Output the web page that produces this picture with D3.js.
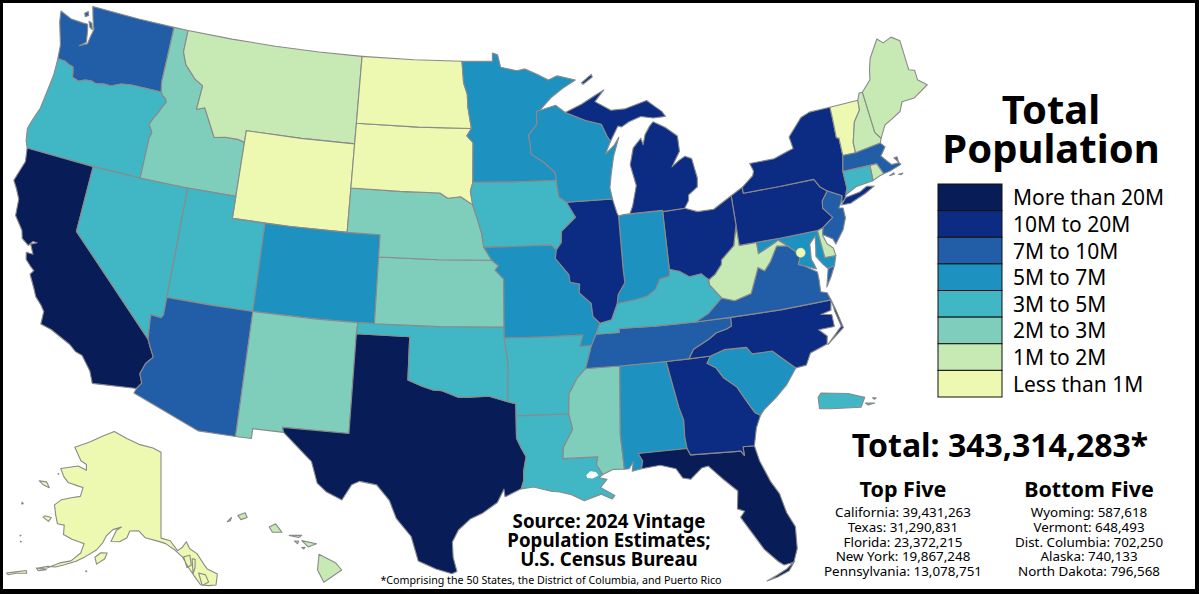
<!DOCTYPE html>
<html>
<head>
<meta charset="utf-8">
<title>Total Population</title>
<script src="https://d3js.org/d3.v7.min.js"></script>
<style>
  html, body { margin: 0; padding: 0; background: white; overflow: hidden; }
  text { font-family: "Noto Sans", sans-serif; fill: black; }
</style>
</head>
<body>
<svg id="map" width="1199" height="594" style="display:block"></svg>
<script>
// population per state (2024 vintage)
const stateIds = ["CA","TX","FL","NY","PA","IL","OH","GA","NC","MI","NJ","VA","WA","AZ","TN","MA","IN","MD","MO","WI","CO","MN","SC","AL","LA","KY","OR","OK","CT","UT","IA","NV","AR","KS","MS","NM","NE","ID","WV","HI","NH","ME","MT","RI","DE","SD","ND","AK","DC","VT","WY","PR"];
const statePopulation = [39431263,31290831,23372215,19867248,13078751,12710158,11883304,11180878,11046024,10140459,9500851,8811195,7958180,7582384,7227750,7136171,6924275,6263220,6245466,5960975,5957493,5793151,5478831,5157699,4597740,4588372,4272371,4095393,3675069,3503613,3241488,3267467,3088354,2970606,2943045,2130256,2005465,2001619,1769979,1446146,1409032,1405012,1137233,1112308,1051917,924669,796568,740133,702250,648493,587618,3203295];

const legendLabels = ["More than 20M","10M to 20M","7M to 10M","5M to 7M","3M to 5M","2M to 3M","1M to 2M","Less than 1M"];
const legendColors = ["#081d58","#0c2c84","#225ea8","#1d91c0","#41b6c4","#7fcdbb","#c7e9b4","#edf8b1"];
const thresholds = [1e6,2e6,3e6,5e6,7e6,10e6,20e6];

const topNames = ["California","Texas","Florida","New York","Pennsylvania"];
const topValues = [39431263,31290831,23372215,19867248,13078751];
const bottomNames = ["Wyoming","Vermont","Dist. Columbia","Alaska","North Dakota"];
const bottomValues = [587618,648493,702250,740133,796568];
const totalPopulation = 343314283;
const titleLines = ["Total","Population"];
const sourceLines = ["Source: 2024 Vintage","Population Estimates;","U.S. Census Bureau"];

// flat lon,lat list -> pairs
function p() {
  var a = [];
  for (var i = 0; i < arguments.length; i += 2) a.push([arguments[i], arguments[i+1]]);
  return a;
}

// state outlines, lon/lat
const outlines = {
WA: [p(-124.73,48.38,-124.6,47.9,-124.3,47.3,-124.1,46.9,-124.0,46.27,-123.5,46.25,-123.2,46.15,-122.9,46.1,-122.8,45.85,-122.75,45.65,-122.3,45.55,-121.9,45.68,-121.5,45.72,-121.2,45.65,-120.65,45.73,-120.2,45.72,-119.6,45.92,-118.98,46.0,-116.92,46.0,-117.04,46.42,-117.03,47.7,-117.03,49,-119.5,49,-122.75,49,-122.5,48.45,-122.25,48.0,-122.35,47.6,-122.4,47.3,-122.9,47.1,-122.5,47.35,-122.65,47.9,-122.75,48.15,-123.1,48.15,-123.9,48.17),
     p(-123.15,48.6,-122.95,48.72,-122.85,48.55,-123.05,48.45), p(-122.72,48.3,-122.5,48.25,-122.35,47.98,-122.55,48.05)],
OR: [p(-124.0,46.27,-123.95,45.5,-124.05,44.7,-124.15,43.9,-124.4,43.3,-124.55,42.84,-124.4,42.3,-124.21,42,-120,42,-117.03,42,-117.03,43.83,-116.93,44.1,-117.05,44.25,-117.22,44.45,-117.05,44.75,-116.85,45.0,-116.67,45.3,-116.46,45.6,-116.55,45.75,-116.78,45.85,-116.92,46.0,-118.98,46.0,-119.6,45.92,-120.2,45.72,-120.65,45.73,-121.2,45.65,-121.5,45.72,-121.9,45.68,-122.3,45.55,-122.75,45.65,-122.8,45.85,-122.9,46.1,-123.2,46.15,-123.5,46.25)],
CA: [p(-124.21,42,-124.07,41.4,-124.41,40.44,-124.1,40.1,-123.8,39.7,-123.7,38.95,-123.1,38.4,-122.95,38.05,-122.5,37.82,-122.3,38.05,-122.05,38.05,-122.38,37.9,-122.1,37.5,-122.5,37.5,-122.4,37.2,-122.05,36.95,-121.8,36.8,-121.95,36.6,-121.5,36.0,-121.3,35.7,-120.9,35.4,-120.65,35.15,-120.63,34.57,-120.0,34.45,-119.2,34.15,-118.8,34.0,-118.4,33.75,-118.0,33.65,-117.4,33.05,-117.12,32.53,-114.72,32.72,-114.5,33.0,-114.7,33.4,-114.5,33.9,-114.15,34.25,-114.45,34.7,-114.63,35.0,-120,39,-120,42)],
NV: [p(-120,42,-117.03,42,-114.04,42,-114.04,39,-114.04,36.2,-114.15,36.05,-114.75,36.1,-114.63,35.0,-120,39)],
ID: [p(-117.03,49,-116.05,49,-116.05,48.0,-115.72,47.45,-114.95,46.9,-114.35,46.65,-114.45,45.55,-113.95,45.7,-113.45,45.05,-113.0,44.45,-112.3,44.55,-111.5,44.55,-111.05,44.47,-111.05,42,-114.04,42,-117.03,42,-117.03,43.83,-116.93,44.1,-117.05,44.25,-117.22,44.45,-117.05,44.75,-116.85,45.0,-116.67,45.3,-116.46,45.6,-116.55,45.75,-116.78,45.85,-116.92,46.0,-117.04,46.42,-117.03,47.7)],
MT: [p(-116.05,49,-113,49,-110,49,-107,49,-104.05,49,-104.05,45,-107.5,45,-111.05,45,-111.05,44.47,-111.5,44.55,-112.3,44.55,-113.0,44.45,-113.45,45.05,-113.95,45.7,-114.45,45.55,-114.35,46.65,-114.95,46.9,-115.72,47.45,-116.05,48.0)],
WY: [p(-111.05,45,-107.5,45,-104.05,45,-104.05,43,-104.05,41,-107.5,41,-111.05,41,-111.05,42,-111.05,44.47)],
UT: [p(-114.04,42,-111.05,42,-111.05,41,-109.05,41,-109.05,37,-111.5,37,-114.04,37,-114.04,39)],
AZ: [p(-114.04,37,-111.5,37,-109.05,37,-109.05,31.33,-111.07,31.33,-114.81,32.5,-114.72,32.72,-114.5,33.0,-114.7,33.4,-114.5,33.9,-114.15,34.25,-114.45,34.7,-114.63,35.0,-114.75,36.1,-114.15,36.05,-114.04,36.2)],
CO: [p(-109.05,41,-107.5,41,-104.05,41,-102.05,41,-102.05,40,-102.05,37,-105.5,37,-109.05,37)],
NM: [p(-109.05,37,-105.5,37,-103,37,-103.04,36.5,-103.04,32,-106.62,32,-106.53,31.78,-108.2,31.78,-108.2,31.33,-109.05,31.33)],
TX: [p(-103.04,36.5,-100,36.5,-100,34.56,-99.2,34.3,-98.6,34.15,-98.1,34.13,-97.2,33.85,-96.6,33.85,-95.5,33.9,-94.48,33.64,-94.04,33.55,-94.04,33.0,-94.04,31.99,-93.8,31.55,-93.55,31.15,-93.7,30.5,-93.72,30.05,-93.85,29.7,-94.7,29.35,-94.75,29.7,-95.1,29.1,-95.9,28.6,-96.5,28.35,-97.1,27.85,-97.4,27.3,-97.35,26.6,-97.15,25.96,-97.4,25.85,-98.2,26.05,-99.1,26.4,-99.5,27.5,-100.3,28.3,-100.7,29.1,-101.4,29.77,-102.3,29.88,-102.7,29.7,-103.15,28.98,-104.0,29.3,-104.5,29.65,-104.9,30.6,-106.0,31.4,-106.53,31.78,-106.62,32,-103.04,32)],
OK: [p(-103,37,-99,37,-94.62,37,-94.62,36.5,-94.43,35.4,-94.48,33.64,-95.5,33.9,-96.6,33.85,-97.2,33.85,-98.1,34.13,-98.6,34.15,-99.2,34.3,-100,34.56,-100,36.5,-103.04,36.5)],
KS: [p(-102.05,40,-98.5,40,-95.3,40,-94.9,39.75,-95.1,39.55,-94.6,39.15,-94.62,37,-98.3,37,-102.05,37)],
NE: [p(-104.05,43,-101,43,-98.5,43,-98.0,42.77,-97.2,42.85,-96.45,42.49,-96.1,41.7,-95.9,41.2,-95.77,40.58,-95.3,40,-98.5,40,-102.05,40,-102.05,41,-104.05,41)],
SD: [p(-104.05,45.94,-100,45.94,-96.56,45.94,-96.85,45.6,-96.45,45.3,-96.45,43.5,-96.6,43.1,-96.45,42.49,-97.2,42.85,-98.0,42.77,-98.5,43,-101,43,-104.05,43)],
ND: [p(-104.05,49,-100.5,49,-97.23,49,-97.1,48.0,-96.85,47.5,-96.8,46.9,-96.56,45.94,-100,45.94,-104.05,45.94)],
MN: [p(-97.23,49,-95.15,49,-95.15,49.38,-94.8,49.3,-94.6,48.72,-93.5,48.55,-92.95,48.62,-92.0,48.3,-91.4,48.07,-90.8,48.24,-89.6,48.0,-90.5,47.65,-91.3,47.25,-92.05,46.72,-92.29,46.66,-92.29,46.08,-92.85,45.6,-92.75,45.0,-92.75,44.75,-91.95,44.35,-91.25,43.85,-91.22,43.5,-94,43.5,-96.45,43.5,-96.45,45.3,-96.85,45.6,-96.56,45.94,-96.8,46.9,-96.85,47.5,-97.1,48.0)],
IA: [p(-96.45,43.5,-94,43.5,-91.22,43.5,-91.1,42.75,-90.65,42.5,-90.15,41.8,-91.05,41.2,-91.1,40.7,-91.42,40.38,-91.73,40.61,-94,40.6,-95.77,40.58,-95.9,41.2,-96.1,41.7,-96.45,42.49,-96.6,43.1)],
MO: [p(-95.77,40.58,-94,40.6,-91.73,40.61,-91.42,40.38,-91.5,40.0,-90.75,39.25,-90.7,38.9,-90.15,38.8,-90.2,38.4,-89.55,37.9,-89.5,37.3,-89.13,36.98,-89.4,36.5,-89.7,36.0,-90.37,36.0,-90.15,36.5,-92.5,36.5,-94.62,36.5,-94.62,37,-94.6,39.15,-95.1,39.55,-94.9,39.75,-95.3,40)],
AR: [p(-94.62,36.5,-92.5,36.5,-90.15,36.5,-90.37,36,-89.7,36,-90.1,35.0,-90.6,34.6,-91.1,33.9,-91.17,33.0,-92.5,33,-94.04,33,-94.04,33.55,-94.48,33.64,-94.43,35.4)],
LA: [p(-94.04,33,-92.5,33,-91.17,33,-91.0,32.3,-91.55,31.5,-91.6,31.0,-89.75,31.0,-89.85,30.65,-89.55,30.18,-89.75,30.05,-89.35,29.95,-89.72,29.6,-89.0,29.2,-89.15,29.05,-89.7,29.3,-90.6,29.05,-91.3,29.37,-91.85,29.5,-92.3,29.55,-93.2,29.77,-93.85,29.7,-93.72,30.05,-93.7,30.5,-93.55,31.15,-93.8,31.55,-94.04,31.99)],
MS: [p(-90.1,35,-88.2,35,-88.47,31.9,-88.4,30.35,-89.0,30.38,-89.55,30.18,-89.85,30.65,-89.75,31.0,-91.6,31.0,-91.55,31.5,-91.0,32.3,-91.17,33.0,-91.1,33.9,-90.6,34.6)],
AL: [p(-88.2,35,-85.6,35,-85.18,32.87,-85.0,32.3,-85.05,31.55,-85.0,31,-87.6,31,-87.4,30.65,-87.5,30.3,-88.0,30.23,-87.9,30.65,-88.15,30.35,-88.4,30.35,-88.47,31.9)],
FL: [p(-87.6,31,-85.0,31,-84.86,30.7,-82.2,30.57,-82.05,30.35,-82.05,30.75,-81.45,30.72,-81.3,30.0,-80.9,29.0,-80.55,28.4,-80.35,27.5,-80.03,26.8,-80.12,25.8,-80.4,25.2,-80.9,25.15,-81.15,25.35,-81.75,26.0,-82.1,26.6,-82.7,27.6,-82.45,27.85,-82.8,28.0,-82.65,28.8,-83.4,29.5,-84.0,30.1,-84.35,30.05,-85.0,29.6,-85.4,29.7,-85.7,30.15,-86.5,30.38,-87.5,30.3,-87.4,30.65),
     p(-81.85,24.55,-81.3,24.65,-80.7,24.85,-80.35,25.25,-80.45,25.2,-80.8,24.95,-81.3,24.75)],
GA: [p(-85.6,35,-84.32,35,-83.1,35,-83.35,34.7,-82.9,34.45,-82.55,33.95,-81.9,33.45,-81.4,32.6,-81.15,32.2,-80.88,32.03,-81.2,31.5,-81.45,30.72,-82.05,30.75,-82.05,30.35,-82.2,30.57,-84.86,30.7,-85.0,31,-85.05,31.55,-85.0,32.3,-85.18,32.87)],
SC: [p(-83.1,35,-82.3,35.2,-81.05,35.15,-80.8,34.82,-79.67,34.8,-78.55,33.86,-79.2,33.2,-79.9,32.7,-80.65,32.25,-80.88,32.03,-81.15,32.2,-81.4,32.6,-81.9,33.45,-82.55,33.95,-82.9,34.45,-83.35,34.7)],
NC: [p(-84.32,35,-83.1,35,-82.3,35.2,-81.05,35.15,-80.8,34.82,-79.67,34.8,-78.55,33.86,-77.95,33.9,-77.6,34.4,-76.6,34.65,-76.5,35.0,-76.9,35.35,-76.0,35.35,-76.0,35.9,-76.6,36.0,-76.0,36.1,-75.87,36.55,-78.8,36.55,-81.68,36.59,-81.7,36.2,-82.0,36.1,-82.6,36.0,-83.1,35.75,-84.0,35.4),
     p(-76.55,34.62,-75.52,35.22,-75.7,36.0,-75.85,36.5,-75.8,36.0,-75.62,35.3)],
TN: [p(-90.1,35,-88.2,35,-85.6,35,-84.32,35,-84.0,35.4,-83.1,35.75,-82.6,36.0,-82.0,36.1,-81.7,36.2,-81.68,36.59,-83.68,36.6,-86,36.63,-88.07,36.68,-88.07,36.5,-89.4,36.5,-89.7,36)],
KY: [p(-89.4,36.5,-88.07,36.5,-88.07,36.68,-86,36.63,-83.68,36.6,-82.9,36.9,-82.0,37.5,-82.6,38.17,-82.6,38.4,-83.0,38.72,-83.7,38.65,-84.25,38.95,-84.82,39.1,-84.85,38.8,-85.45,38.7,-85.75,38.27,-86.3,38.0,-87.0,37.9,-88.05,37.8,-88.45,37.1,-89.13,36.98)],
VA: [p(-83.68,36.6,-81.68,36.59,-78.8,36.55,-75.87,36.55,-76.0,36.9,-76.35,37.0,-76.3,37.55,-76.3,37.9,-77.0,38.3,-77.3,38.4,-77.05,38.8,-77.5,39.15,-77.72,39.32,-78.35,39.4,-78.87,38.77,-79.3,38.4,-79.65,38.6,-80.3,37.5,-81.3,37.3,-81.97,37.54,-82.9,36.9),
     p(-75.95,37.15,-75.6,37.55,-75.25,38.03,-75.65,37.95)],
WV: [p(-82.6,38.4,-82.6,38.17,-82.0,37.5,-81.3,37.3,-80.3,37.5,-79.65,38.6,-79.3,38.4,-78.87,38.77,-78.35,39.4,-77.72,39.32,-78.2,39.65,-78.45,39.55,-79.48,39.21,-79.48,39.72,-80.52,39.72,-80.52,40.64,-80.85,39.75,-81.7,39.2,-81.75,39.0,-82.2,38.6)],
MD: [p(-79.48,39.72,-78,39.72,-75.79,39.72,-75.7,38.46,-75.05,38.45,-75.25,38.03,-75.65,37.95,-75.9,38.2,-76.2,38.6,-76.1,39.0,-76.0,39.5,-76.4,39.2,-76.5,38.5,-76.4,38.3,-76.32,38.04,-77.0,38.3,-77.3,38.4,-77.05,38.8,-77.5,39.15,-77.72,39.32,-78.2,39.65,-78.45,39.55,-79.48,39.21)],
DE: [p(-75.79,39.72,-75.42,39.8,-75.55,39.45,-75.4,39.05,-75.1,38.8,-75.05,38.45,-75.7,38.46)],
PA: [p(-80.52,41.98,-79.76,42.27,-79.76,42.0,-77.5,42,-75.35,42.0,-75.07,41.6,-74.7,41.36,-75.13,40.97,-75.2,40.65,-74.73,40.15,-75.42,39.8,-75.79,39.72,-78,39.72,-80.52,39.72,-80.52,40.64)],
NY: [p(-79.76,42.27,-79.0,42.7,-78.9,42.9,-79.05,43.27,-77.5,43.27,-76.5,43.5,-76.2,43.55,-76.3,44.1,-75.3,44.85,-74.7,45.0,-73.34,45.0,-73.35,44.5,-73.4,43.6,-73.25,43.55,-73.27,42.75,-73.5,42.05,-73.5,41.3,-73.65,41.0,-73.8,40.8,-74.0,40.7,-73.9,41.0,-74.7,41.36,-75.07,41.6,-75.35,42.0,-77.5,42,-79.76,42.0),
     p(-74.05,40.6,-73.7,40.88,-72.8,40.97,-72.3,41.15,-71.87,41.07,-72.5,40.85,-73.5,40.58)],
NJ: [p(-73.9,41.0,-74.7,41.36,-75.13,40.97,-75.2,40.65,-74.73,40.15,-75.42,39.8,-75.55,39.5,-75.0,39.2,-74.9,38.95,-74.3,39.5,-74.0,40.0,-74.0,40.45,-74.25,40.5,-74.05,40.7)],
OH: [p(-84.81,41.7,-83.45,41.73,-82.7,41.5,-81.7,41.5,-80.52,41.98,-80.52,40.64,-80.85,39.75,-81.7,39.2,-81.75,39.0,-82.2,38.6,-82.6,38.4,-83.0,38.72,-83.7,38.65,-84.25,38.95,-84.82,39.1)],
IN: [p(-87.52,41.71,-87.2,41.75,-86.82,41.76,-84.81,41.76,-84.82,39.1,-84.85,38.8,-85.45,38.7,-85.75,38.27,-86.3,38.0,-87.0,37.9,-88.05,37.8,-87.95,38.2,-87.5,38.7,-87.53,39.35)],
IL: [p(-90.65,42.5,-87.8,42.5,-87.6,41.85,-87.52,41.71,-87.53,39.35,-87.5,38.7,-87.95,38.2,-88.05,37.8,-88.45,37.1,-89.13,36.98,-89.5,37.3,-89.55,37.9,-90.2,38.4,-90.15,38.8,-90.7,38.9,-90.75,39.25,-91.5,40.0,-91.42,40.38,-91.1,40.7,-91.05,41.2,-90.15,41.8)],
WI: [p(-92.29,46.66,-91.0,46.9,-90.4,46.55,-89.1,46.13,-88.1,45.9,-87.8,45.35,-87.6,45.1,-88.0,44.55,-87.4,44.9,-87.05,45.25,-87.5,44.4,-87.75,43.6,-87.9,43.0,-87.8,42.5,-90.65,42.5,-91.1,42.75,-91.22,43.5,-91.25,43.85,-91.95,44.35,-92.75,44.75,-92.75,45,-92.85,45.6,-92.29,46.08)],
MI: [p(-90.4,46.55,-89.3,46.88,-88.45,47.2,-87.75,47.45,-88.4,46.95,-87.4,46.5,-86.5,46.5,-85.0,46.77,-84.5,46.45,-84.1,46.2,-83.9,45.95,-84.7,45.95,-85.5,46.08,-86.3,45.9,-86.8,45.7,-87.05,45.75,-87.6,45.1,-87.8,45.35,-88.1,45.9,-89.1,46.13),
     p(-86.82,41.76,-84.81,41.76,-84.81,41.7,-83.45,41.73,-83.15,42.05,-83.1,42.3,-82.5,42.6,-82.42,43.0,-82.6,43.9,-83.0,44.05,-83.4,43.9,-83.9,43.65,-83.3,44.3,-83.3,45.0,-84.0,45.45,-84.75,45.78,-85.0,45.6,-85.35,45.25,-85.55,44.8,-85.65,45.1,-86.2,44.7,-86.5,43.95,-86.25,43.0,-86.6,42.1),
     p(-89.2,47.85,-88.5,48.2,-88.45,48.08,-89.1,47.78)],
VT: [p(-73.34,45.0,-71.5,45.0,-71.55,44.55,-72.05,44.1,-72.45,43.2,-72.46,42.73,-73.27,42.75,-73.25,43.55,-73.4,43.6,-73.35,44.5)],
NH: [p(-71.5,45.0,-71.3,45.3,-71.08,45.3,-70.98,43.4,-70.7,43.07,-70.82,42.87,-72.46,42.73,-72.45,43.2,-72.05,44.1,-71.55,44.55)],
ME: [p(-71.08,45.3,-70.4,45.75,-70.25,46.2,-70.0,46.7,-69.23,47.45,-68.9,47.2,-68.3,47.35,-67.8,47.07,-67.8,45.7,-67.45,45.6,-67.45,45.15,-66.95,44.8,-68.0,44.4,-68.8,44.4,-69.1,44.0,-69.8,43.75,-70.25,43.6,-70.7,43.07,-70.98,43.4)],
MA: [p(-73.5,42.05,-73.27,42.75,-72.46,42.73,-70.82,42.87,-70.6,42.65,-71.0,42.3,-70.65,41.95,-70.5,41.8,-70.05,41.8,-70.05,42.07,-70.25,42.07,-69.95,41.7,-70.65,41.55,-71.12,41.5,-71.2,41.67,-71.38,42.02,-71.8,42.02),
     p(-70.8,41.35,-70.5,41.42,-70.5,41.35), p(-70.25,41.3,-69.97,41.3,-70.1,41.25)],
RI: [p(-71.8,42.02,-71.38,42.02,-71.2,41.67,-71.12,41.5,-71.4,41.45,-71.85,41.32)],
CT: [p(-73.5,42.05,-71.8,42.02,-71.85,41.32,-72.9,41.25,-73.65,41.0,-73.5,41.3)],
AK: [p(-141,69.65,-143.5,70.1,-148,70.4,-152,70.85,-156.6,71.35,-160,70.5,-163,69.5,-166.8,68.35,-163.8,67.2,-162,67,-161.5,66.4,-164,66.55,-168.1,65.6,-166.5,64.9,-165,64.5,-162,64.5,-161,64.5,-161,63.5,-163,63.05,-165,62.5,-166.1,61.7,-165,60.7,-164,59.9,-162.5,60.0,-162,59.0,-160,58.8,-158,58.7,-157.3,58.7,-157.5,57.6,-159,56.5,-161,55.95,-163,55.0,-164.8,54.6,-163,55.2,-161.5,55.4,-160,55.9,-158,56.6,-156.5,57.3,-154.5,58.3,-153.5,59.2,-153,60.0,-151.8,60.8,-150,61.2,-151,60.8,-151.8,59.5,-150,59.6,-148.5,60.1,-148,60.9,-146,61,-144.5,60.3,-141.5,59.95,-140,59.7,-138,58.95,-136.6,58.2,-135.5,57.0,-134.5,56.0,-133.5,55.0,-132,54.8,-130.6,54.75,-130,55.9,-131.8,56.6,-132.2,57.0,-133.5,58.4,-134.9,59.0,-135.5,59.8,-136.5,59.2,-137.5,58.9,-139,60.0,-141,60.3),
     p(-154.5,57.5,-153.5,58.1,-152.2,58.2,-152.5,57.5,-153.9,56.8),
     p(-171.7,63.4,-170,63.65,-168.8,63.2,-170.3,63.2),
     p(-167.2,60.2,-165.7,60.3,-166,59.8,-167.4,60),
     p(-164.9,54.6,-163,54.8,-164.4,54.4),
     p(-169.6,52.85,-168.5,53.25,-166.5,53.95,-166.2,53.7,-168,53.25,-169.2,52.75),
     p(-173,60.5,-172.6,60.4,-172.9,60.3),
     p(-170.3,57.2,-170.1,57.2,-170.2,57.12),
     p(-169.7,56.62,-169.5,56.62,-169.6,56.55),
     p(-168.2,65.0,-168,65.0,-168.1,64.9),
     p(-155.7,55.85,-155.5,55.85,-155.6,55.75),
     p(-136.3,58.2,-135,58.3,-134.9,57.2,-135.8,57.0),
     p(-134.6,57.9,-134,57.8,-134.2,56.9,-134.7,56.3),
     p(-133.6,56.3,-132.3,56.0,-131.9,55.2,-133.2,54.9)],
HI: [p(-155.88,20.25,-155.1,19.85,-154.8,19.5,-155.65,18.92,-155.95,19.5),
     p(-156.7,20.9,-156.0,20.75,-156.4,20.6),
     p(-158.25,21.55,-157.95,21.7,-157.65,21.3,-158.1,21.3),
     p(-159.75,22.1,-159.4,22.23,-159.3,22.0,-159.6,21.9),
     p(-160.25,21.8,-160.05,22.0,-160.1,21.85),
     p(-157.3,21.15,-156.7,21.15,-156.85,21.05),
     p(-157.05,20.88,-156.85,20.88,-156.9,20.75),
     p(-156.7,20.57,-156.55,20.58,-156.6,20.5)],
PR: [p(-67.25,18.35,-67.15,18.5,-66.2,18.48,-65.62,18.35,-65.75,18.0,-66.8,17.95,-67.2,17.95),
     p(-65.6,18.15,-65.27,18.15,-65.5,18.08), p(-65.35,18.33,-65.22,18.33,-65.28,18.28)]
};
// water cut out of Louisiana
const lakes = [p(-90.42,30.2,-90.2,30.36,-89.9,30.32,-89.78,30.15,-90.1,30.03,-90.38,30.07)];

const dcLocation = [-77.03,38.9];

// same classes as the legend
const color = d3.scaleThreshold().domain(thresholds).range(legendColors.slice().reverse());
const popById = new Map(stateIds.map(function(id, i) { return [id, statePopulation[i]]; }));

const svg = d3.select("#map");
// black frame, white page
svg.append("rect").attr("width",1199).attr("height",594).attr("fill","black");
svg.append("rect").attr("x",3).attr("y",3).attr("width",1192).attr("height",586).attr("fill","white");

const mainProj = d3.geoConicEqualArea().parallels([29.5,45.5]).rotate([96,0]).center([0,37.5]).scale(1265).translate([480,316]);
const akProj = d3.geoConicEqualArea().parallels([55,65]).rotate([141,0]).center([0,64]).scale(527).translate([161,504]);
const hiProj = d3.geoEquirectangular().rotate([157.5,0]).center([0,20.5]).scale(1203).translate([285,549]);
const prProj = d3.geoEquirectangular().rotate([66.45,0]).center([0,18.22]).scale(1640).translate([841,401]);
const projFor = {AK: akProj, HI: hiProj, PR: prProj};

// geoPath is spherical so every ring has to wind clockwise
function polygon(ring) {
  var r = ring.concat([ring[0]]);
  var f = {type:"Polygon", coordinates:[r]};
  if (d3.geoArea(f) > 2*Math.PI) f.coordinates = [r.slice().reverse()];
  return f;
}

const features = [];
Object.keys(outlines).forEach(function(id) {
  features.push({id:id, geometry:{type:"MultiPolygon", coordinates:outlines[id].map(function(r) { return polygon(r).coordinates; })}});
});

svg.append("g").selectAll("path").data(features).enter().append("path")
  .attr("d", function(d) {
    return d3.geoPath(projFor[d.id] || mainProj)(d.geometry);
  })
  .attr("fill", function(d) { return color(popById.get(d.id)); })
  .attr("stroke", "#8a8a8a")
  .attr("stroke-width", 1.1)
  .attr("stroke-linejoin", "round");

svg.append("g").selectAll("path").data(lakes).enter().append("path")
  .attr("d", function(r) { return d3.geoPath(mainProj)(polygon(r)); })
  .attr("fill", "white");

// DC is too small to see, so it gets a dot
svg.append("circle")
  .attr("cx", mainProj(dcLocation)[0])
  .attr("cy", mainProj(dcLocation)[1])
  .attr("r", 4.6)
  .attr("fill", color(popById.get("DC")))
  .attr("stroke", "#c7e9b4")
  .attr("stroke-width", 0.5);

// several lines in one text element
function multiline(x, y, lineHeight, lines, size, weight, anchor) {
  var t = svg.append("text").attr("font-size",size).attr("font-weight",weight).attr("text-anchor",anchor);
  t.selectAll("tspan").data(lines).enter().append("tspan")
    .attr("x",x).attr("y",function(d,i) { return y+i*lineHeight; })
    .text(function(d) { return d; });
}

multiline(1051,124,39,titleLines,40,700,"middle");

// legend
const ly = d3.scaleBand().domain(legendLabels).range([184,397]);
svg.append("g").selectAll("rect").data(legendLabels).enter().append("rect")
  .attr("x",938).attr("y",function(d) { return ly(d); })
  .attr("width",64).attr("height",ly.bandwidth())
  .attr("fill",function(d,i) { return legendColors[i]; })
  .attr("stroke","#111").attr("stroke-width",1);
multiline(1013,ly(legendLabels[0])+ly.bandwidth()/2+8,ly.step(),legendLabels,21,400,"start");

const fmt = d3.format(",");
multiline(1000,457,0,["Total: "+fmt(totalPopulation)+"*"],32,700,"middle");

function rankColumn(cx, title, names, values) {
  multiline(cx,497,0,[title],21.5,700,"middle");
  multiline(cx,517,14.75,names.map(function(d,i) { return d+": "+fmt(values[i]); }),13.4,400,"middle");
}
rankColumn(903,"Top Five",topNames,topValues);
rankColumn(1089,"Bottom Five",bottomNames,bottomValues);

multiline(609,528,19,sourceLines,18.7,700,"middle");
multiline(551,584,0,["*Comprising the 50 States, the District of Columbia, and Puerto Rico"],10.7,400,"middle");
</script>
</body>
</html>
